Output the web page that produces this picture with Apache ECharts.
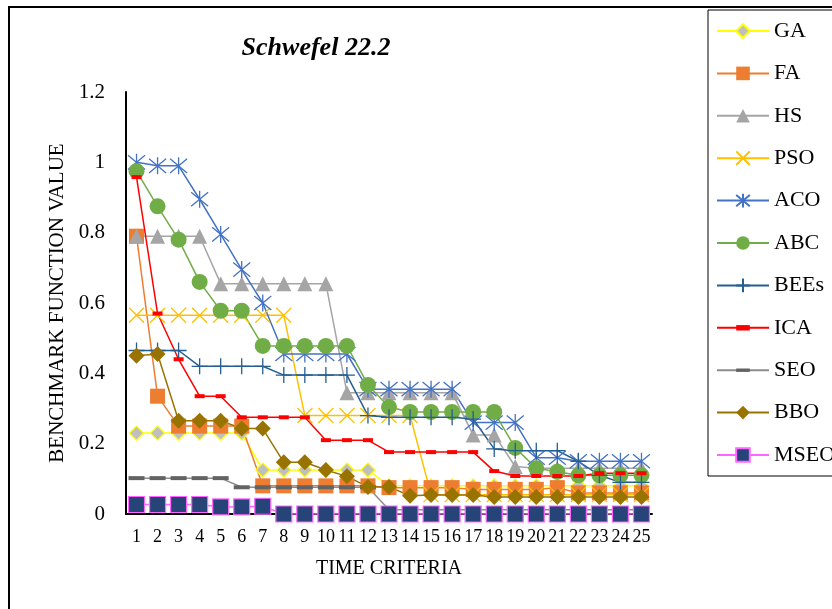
<!DOCTYPE html>
<html>
<head>
<meta charset="utf-8">
<script src="https://cdn.jsdelivr.net/npm/echarts@6/dist/echarts.min.js"></script>
<style>html,body{margin:0;padding:0;background:#fff}#c{width:832px;height:609px}</style>
</head>
<body>
<div id="c"></div>
<script>
const categories = ['1','2','3','4','5','6','7','8','9','10','11','12','13','14','15','16','17','18','19','20','21','22','23','24','25'];
const yTicks = [0, 0.2, 0.4, 0.6, 0.8, 1, 1.2];

const GA   = [0.23,0.23,0.23,0.23,0.23,0.23,0.125,0.125,0.125,0.125,0.125,0.125,0.08,0.08,0.08,0.08,0.08,0.08,0.08,0.08,0.08,0.08,0.08,0.08,0.08];
const FA   = [0.79,0.335,0.25,0.25,0.25,0.25,0.08,0.08,0.08,0.08,0.08,0.08,0.075,0.075,0.075,0.075,0.07,0.07,0.07,0.07,0.075,0.06,0.06,0.06,0.06];
const HS   = [0.79,0.79,0.79,0.79,0.655,0.655,0.655,0.655,0.655,0.655,0.345,0.345,0.345,0.345,0.345,0.345,0.225,0.225,0.135,0.13,0.13,0.13,0.13,0.13,0.13];
const PSO  = [0.565,0.565,0.565,0.565,0.565,0.565,0.565,0.565,0.28,0.28,0.28,0.28,0.28,0.28,0.055,0.055,0.055,0.055,0.055,0.055,0.055,0.055,0.055,0.055,0.055];
const ACO  = [1.0,0.99,0.99,0.895,0.795,0.695,0.6,0.455,0.455,0.455,0.455,0.355,0.355,0.355,0.355,0.355,0.26,0.26,0.26,0.16,0.16,0.15,0.15,0.15,0.15];
const ABC  = [0.975,0.875,0.78,0.66,0.578,0.578,0.478,0.478,0.478,0.478,0.478,0.367,0.304,0.29,0.29,0.29,0.29,0.29,0.188,0.13,0.12,0.11,0.11,0.11,0.11];
const BEEs = [0.465,0.465,0.465,0.42,0.42,0.42,0.42,0.395,0.395,0.395,0.395,0.28,0.275,0.275,0.275,0.275,0.27,0.185,0.18,0.18,0.18,0.15,0.11,0.09,0.09];
const ICA  = [0.958,0.57,0.44,0.335,0.335,0.275,0.275,0.275,0.275,0.21,0.21,0.21,0.176,0.176,0.176,0.176,0.176,0.122,0.108,0.108,0.108,0.108,0.116,0.116,0.116];
const SEO  = [0.102,0.102,0.102,0.102,0.102,0.076,0.076,0.076,0.076,0.076,0.076,0.076,0.012,0.012,0.012,0.012,0.012,0.012,0.012,0.012,0.012,0.012,0.012,0.012,0.012];
const BBO  = [0.45,0.455,0.265,0.265,0.265,0.243,0.243,0.147,0.147,0.125,0.107,0.077,0.077,0.052,0.054,0.054,0.054,0.048,0.048,0.048,0.048,0.048,0.048,0.048,0.048];
const MSEO = [0.027,0.027,0.027,0.027,0.02,0.02,0.022,0,0,0,0,0,0,0,0,0,0,0,0,0,0,0,0,0,0];

const serif = '"Liberation Serif", "Times New Roman", serif';
const X_PATH = 'path://M0,0L20,20M20,0L0,20';
const AST_PATH = 'path://M0,0L20,20M20,0L0,20M10,-2L10,22';
const PLUS_PATH = 'path://M10,0L10,20M0,10L20,10';
// dash markers inside a square box (move-to points define the box)
const DASH_ICA = 'path://M0,0M10,10M0,3L10,3L10,7L0,7Z';
const DASH_SEO = 'path://M0,0M16,16M0,6L16,6L16,10L0,10Z';

function mk(name, data, lineColor, symbol, size, fill, border, bw) {
  return {
    name, type: 'line', data,
    symbol, symbolSize: size,
    showSymbol: true,
    lineStyle: { color: lineColor, width: 1.5 },
    itemStyle: { color: fill, borderColor: border, borderWidth: bw },
    emphasis: { disabled: true },
    animation: false
  };
}

const series = [
  mk('GA', GA, '#FFFF00', 'diamond', 14, '#BFBFBF', '#FFFF00', 1.2),
  mk('FA', FA, '#ED7D31', 'rect', 15, '#ED7D31', '#ED7D31', 0),
  mk('HS', HS, '#A5A5A5', 'triangle', 15, '#A5A5A5', '#A5A5A5', 0),
  mk('PSO', PSO, '#FFC000', X_PATH, 15, 'none', '#FFC000', 1.3),
  mk('ACO', ACO, '#4472C4', AST_PATH, 17, 'none', '#4472C4', 1.3),
  mk('ABC', ABC, '#70AD47', 'circle', 16, '#70AD47', '#70AD47', 0),
  mk('BEEs', BEEs, '#255E91', PLUS_PATH, 16, 'none', '#255E91', 1.3),
  mk('ICA', ICA, '#FF0000', DASH_ICA, 10, '#FF0000', '#FF0000', 0),
  mk('SEO', SEO, '#8C8C8C', DASH_SEO, 16, '#636363', '#636363', 0),
  mk('BBO', BBO, '#997300', 'diamond', 16, '#997300', '#997300', 0),
  mk('MSEO', MSEO, '#FF66FF', 'rect', 16, '#264478', '#FF66FF', 1.2)
];

const chart = echarts.init(document.getElementById('c'), null, { renderer: 'canvas' });
chart.setOption({
  animation: false,
  backgroundColor: '#fff',
  title: {
    text: 'Schwefel 22.2',
    left: 311, top: 30, textAlign: 'center',
    textStyle: { fontFamily: serif, fontSize: 26, fontWeight: 'bold', fontStyle: 'italic', color: '#000' }
  },
  legend: {
    orient: 'vertical',
    left: 708, top: 10,
    padding: [10, 8, 10, 8],
    itemWidth: 52, itemHeight: 17,
    itemGap: 20.4,
    borderColor: '#000', borderWidth: 1,
    textStyle: { fontFamily: serif, fontSize: 22, color: '#000', lineHeight: 20 },
    data: series.map(s => s.name)
  },
  grid: { left: 126, right: 180, top: 92, bottom: 95, containLabel: false },
  xAxis: {
    type: 'category', data: categories, boundaryGap: true,
    name: 'TIME CRITERIA', nameLocation: 'middle', nameGap: 45,
    nameTextStyle: { fontFamily: serif, fontSize: 20, color: '#000' },
    axisLine: { lineStyle: { color: '#000', width: 2 } },
    axisTick: { show: false },
    axisLabel: { interval: 0, margin: 14, fontFamily: serif, fontSize: 18, color: '#000' },
    splitLine: { show: false }
  },
  yAxis: {
    type: 'value', min: yTicks[0], max: yTicks[yTicks.length - 1], interval: 0.2,
    name: 'BENCHMARK FUNCTION VALUE', nameLocation: 'middle', nameGap: 57,
    nameTextStyle: { fontFamily: serif, fontSize: 21, color: '#000' },
    axisLine: { show: true, lineStyle: { color: '#000', width: 2 } },
    axisTick: { show: false },
    axisLabel: { margin: 21, fontFamily: serif, fontSize: 21, color: '#000' },
    splitLine: { show: false }
  },
  graphic: [{
    type: 'rect', silent: true, z: -1,
    shape: { x: 9, y: 7, width: 1000, height: 1000 },
    style: { fill: 'none', stroke: '#000', lineWidth: 2 }
  }],
  series
});
</script>
</body>
</html>
